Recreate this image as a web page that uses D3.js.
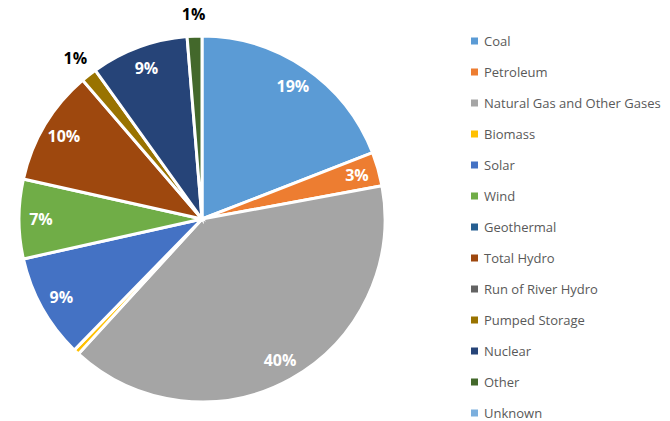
<!DOCTYPE html>
<html>
<head>
<meta charset="utf-8">
<script src="https://d3js.org/d3.v7.min.js"></script>
<style>
  body { margin: 0; background: #fff; }
  svg { display: block; font-family: "Open Sans", "Liberation Sans", sans-serif; }
</style>
</head>
<body>
<svg id="chart" width="670" height="421"></svg>
<script>
// Generation mix categories and share values (percent)
const categories = ["Coal", "Petroleum", "Natural Gas and Other Gases", "Biomass", "Solar", "Wind",
  "Geothermal", "Total Hydro", "Run of River Hydro", "Pumped Storage", "Nuclear", "Other", "Unknown"];
const shares = [19.1, 3.0, 39.7, 0.5, 9.2, 7.0, 0, 10.2, 0, 1.4, 8.6, 1.3, 0];
const colors = ["#5B9BD5", "#ED7D31", "#A5A5A5", "#FFC000", "#4472C4", "#70AD47",
  "#255E91", "#9E480E", "#636363", "#997300", "#264478", "#43682B", "#7CAFDD"];

const svg = d3.select("#chart");
const cx = 202, cy = 219, radius = 183;

const data = categories.map((c, i) => ({ name: c, value: shares[i], color: colors[i] }));
const total = d3.sum(shares);

const pie = d3.pie().sort(null).value(d => d.value);
const arcs = pie(data);
const arc = d3.arc().innerRadius(0).outerRadius(radius);

const g = svg.append("g").attr("transform", `translate(${cx},${cy})`);

g.selectAll("path")
  .data(arcs.filter(d => d.data.value > 0))
  .join("path")
  .attr("d", arc)
  .attr("fill", d => d.data.color)
  .attr("stroke", "#fff")
  .attr("stroke-width", 3)
  .attr("stroke-linejoin", "miter");

// Percent labels: inside for larger slices, outside for ~1% slices
const inner = d3.arc().innerRadius(radius * 0.88).outerRadius(radius * 0.88);
const outer = d3.arc().innerRadius(radius * 1.12).outerRadius(radius * 1.12);

arcs.forEach(d => {
  const pct = Math.round(d.data.value / total * 100);
  if (d.data.value < 1) return;
  const big = d.data.value >= 2.5;
  const [x, y] = big ? inner.centroid(d) : outer.centroid(d);
  g.append("text")
    .attr("x", x)
    .attr("y", y)
    .attr("text-anchor", "middle")
    .attr("dominant-baseline", "central")
    .attr("fill", big ? "#fff" : "#000")
    .attr("font-size", 16)
    .attr("font-weight", "bold")
    .text(pct + "%");
});

// Legend
const legend = svg.append("g").attr("transform", "translate(471,41)");
const row = legend.selectAll("g")
  .data(data)
  .join("g")
  .attr("transform", (d, i) => `translate(0,${i * 31})`);

row.append("rect")
  .attr("x", 0).attr("y", -3.5)
  .attr("width", 7).attr("height", 7)
  .attr("fill", d => d.color);

row.append("text")
  .attr("x", 13)
  .attr("y", 0)
  .attr("dominant-baseline", "central")
  .attr("fill", "#595959")
  .attr("font-size", 13)
  .text(d => d.name);
</script>
</body>
</html>
